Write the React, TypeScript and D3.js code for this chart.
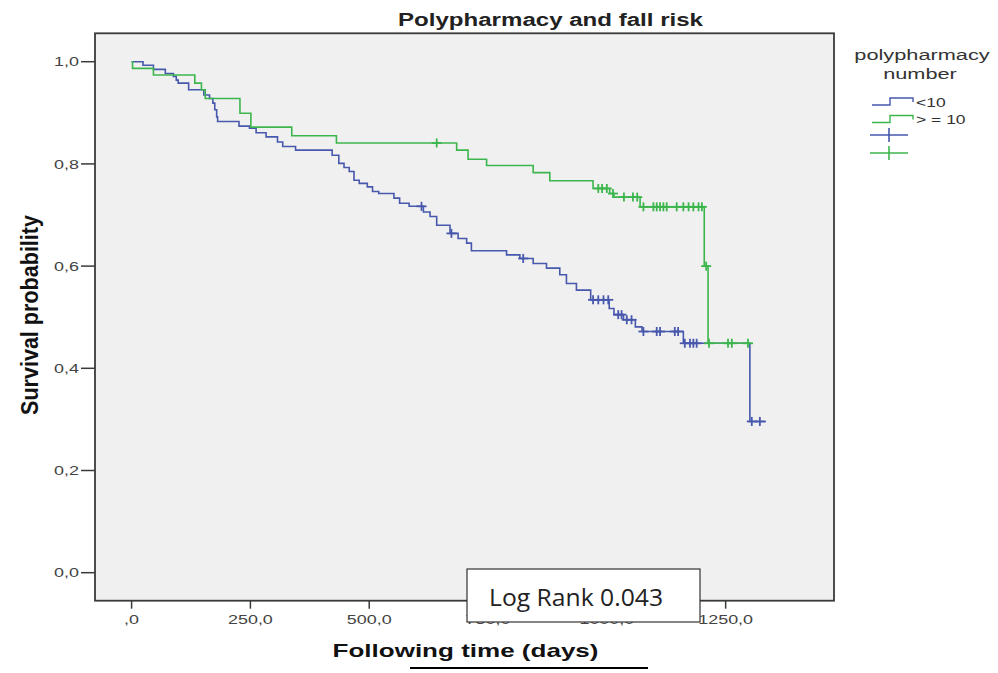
import React from "react";
import * as d3 from "d3";

// ---- data ----
const xTicks = [0, 250, 500, 750, 1000, 1250];
const xTickLabels = [",0", "250,0", "500,0", "750,0", "1000,0", "1250,0"];
const yTicks = [0, 0.2, 0.4, 0.6, 0.8, 1.0];
const yTickLabels = ["0,0", "0,2", "0,4", "0,6", "0,8", "1,0"];

// group "<10" (blue): event times and survival after each event
const blueTimes = [24, 46, 71, 88, 94, 98, 120, 152, 164, 171, 175, 179, 181, 226, 248, 262, 283, 307, 318, 345, 422, 436, 447, 458, 468, 479, 496, 507, 520, 552, 564, 584, 614, 628, 642, 670, 687, 705, 715, 789, 817, 845, 873, 901, 915, 936, 966, 1005, 1015, 1035, 1060, 1074, 1161, 1301];
const blueSurv = [0.993, 0.985, 0.977, 0.971, 0.964, 0.958, 0.945, 0.935, 0.928, 0.919, 0.906, 0.892, 0.883, 0.874, 0.87, 0.861, 0.853, 0.843, 0.834, 0.827, 0.817, 0.801, 0.793, 0.785, 0.768, 0.762, 0.755, 0.746, 0.742, 0.733, 0.723, 0.717, 0.706, 0.697, 0.68, 0.664, 0.654, 0.645, 0.63, 0.622, 0.615, 0.605, 0.596, 0.583, 0.566, 0.553, 0.534, 0.517, 0.505, 0.495, 0.481, 0.472, 0.449, 0.296];
const blueEnd = 1335;
const blueCensored = [610, 673, 824, 971, 982, 993, 1003, 1024, 1031, 1042, 1052, 1077, 1105, 1112, 1143, 1150, 1164, 1175, 1182, 1189, 1305, 1322];

// group "> = 10" (green)
const greenTimes = [2, 46, 133, 147, 155, 228, 251, 337, 431, 684, 708, 747, 845, 880, 971, 1006, 1015, 1070, 1205, 1213];
const greenSurv = [0.987, 0.974, 0.958, 0.945, 0.928, 0.899, 0.872, 0.855, 0.841, 0.827, 0.809, 0.797, 0.783, 0.767, 0.752, 0.742, 0.735, 0.716, 0.6, 0.449];
const greenEnd = 1302;
const greenCensored = [642, 982, 990, 1000, 1013, 1036, 1055, 1064, 1077, 1098, 1105, 1112, 1119, 1126, 1147, 1161, 1172, 1182, 1193, 1200, 1209, 1215, 1255, 1263, 1297];

const legendLabels = ["<10", "> = 10"];

// ---- layout ----
const W = 998;
const H = 673;
const PL = 95, PR = 834, PT = 33.3, PB = 600.7;
const BLUE = "#4758ad";
const GREEN = "#3cb64c";
const FONT = "'Liberation Sans', Arial, sans-serif";
const SX = 1.38;

const xScale = d3.scaleLinear().domain([-77, 1478]).range([PL, PR]);
const yScale = d3.scaleLinear().domain([-0.0548, 1.0556]).range([PB, PT]);

function stepPoints(times: number[], surv: number[], end: number): [number, number][] {
  const pts: [number, number][] = [[0, 1]];
  times.forEach((t, i) => pts.push([t, surv[i]]));
  pts.push([end, surv[surv.length - 1]]);
  return pts;
}

function survAt(times: number[], surv: number[], t: number): number {
  let v = 1;
  for (let i = 0; i < times.length; i++) {
    if (times[i] <= t) v = surv[i];
  }
  return v;
}

const line = d3
  .line<[number, number]>()
  .x((d) => xScale(d[0]))
  .y((d) => yScale(d[1]))
  .curve(d3.curveStepAfter);

function Censors({ times, surv, cens, color }: { times: number[]; surv: number[]; cens: number[]; color: string }) {
  return (
    <g stroke={color} strokeWidth={1.8}>
      {cens.map((t, i) => {
        const cx = xScale(t);
        const cy = yScale(survAt(times, surv, t));
        return (
          <g key={i}>
            <line x1={cx - 5} x2={cx + 5} y1={cy} y2={cy} />
            <line x1={cx} x2={cx} y1={cy - 4.5} y2={cy + 4.5} />
          </g>
        );
      })}
    </g>
  );
}

function SText({ x, y, size, anchor = "start", children, fill = "#333", weight = "normal", sx = SX }: any) {
  return (
    <text
      transform={`translate(${x},${y}) scale(${sx},1)`}
      fontSize={size}
      fontFamily={FONT}
      textAnchor={anchor}
      fill={fill}
      fontWeight={weight}
    >
      {children}
    </text>
  );
}

export default function App() {
  const bluePts = stepPoints(blueTimes, blueSurv, blueEnd);
  const greenPts = stepPoints(greenTimes, greenSurv, greenEnd);

  const legendColors = [BLUE, GREEN];

  return (
    <svg width={W} height={H} style={{ position: "absolute", left: 0, top: 0, background: "#fff" }}>
      <rect x={0} y={0} width={W} height={H} fill="#fff" />
      {/* title */}
      <text x={550.5} y={26} fontSize={18} fontWeight="bold" fontFamily={FONT} textAnchor="middle" fill="#222" textLength={305} lengthAdjust="spacingAndGlyphs">
        Polypharmacy and fall risk
      </text>

      {/* plot area */}
      <rect x={PL} y={PT} width={PR - PL} height={PB - PT} fill="#f0f0f0" stroke="#3a3a3a" strokeWidth={1.8} />

      {/* y ticks */}
      {yTicks.map((v, i) => (
        <g key={"y" + i}>
          <line x1={81} x2={PL} y1={yScale(v)} y2={yScale(v)} stroke="#3a3a3a" strokeWidth={1.5} />
          <SText x={79} y={yScale(v) + 4.6} size={13} anchor="end" fill="#444">
            {yTickLabels[i]}
          </SText>
        </g>
      ))}

      {/* x ticks */}
      {xTicks.map((v, i) => (
        <g key={"x" + i}>
          <line x1={xScale(v)} x2={xScale(v)} y1={PB} y2={PB + 8} stroke="#3a3a3a" strokeWidth={1.5} />
          <SText x={xScale(v)} y={624} size={13} anchor="middle" fill="#444">
            {xTickLabels[i]}
          </SText>
        </g>
      ))}

      {/* curves */}
      <path d={line(bluePts) || ""} fill="none" stroke={BLUE} strokeWidth={1.6} />
      <Censors times={blueTimes} surv={blueSurv} cens={blueCensored} color={BLUE} />
      <path d={line(greenPts) || ""} fill="none" stroke={GREEN} strokeWidth={1.6} />
      <Censors times={greenTimes} surv={greenSurv} cens={greenCensored} color={GREEN} />

      {/* axis titles */}
      <text x={465.5} y={657} fontSize={19} fontWeight="bold" fontFamily={FONT} textAnchor="middle" fill="#111" textLength={266} lengthAdjust="spacingAndGlyphs">
        Following time (days)
      </text>
      <line x1={410} x2={648} y1={668} y2={668} stroke="#000" strokeWidth={2.2} />
      <text transform="translate(38,315) rotate(-90) scale(1,1.3)" fontSize={19} fontWeight="bold" fontFamily={FONT} textAnchor="middle" fill="#111" textLength={200} lengthAdjust="spacingAndGlyphs">
        Survival probability
      </text>

      {/* legend */}
      <SText x={922} y={60} size={15} anchor="middle" fill="#333" sx={1.45}>
        polypharmacy
      </SText>
      <SText x={920} y={79} size={15} anchor="middle" fill="#333" sx={1.45}>
        number
      </SText>
      {legendLabels.map((lab, i) => {
        const yl = 105 + i * 17.5;
        return (
          <g key={"l" + i}>
            <path d={`M872,${yl} H890 V${yl - 7} H913 V${yl - 3}`} fill="none" stroke={legendColors[i]} strokeWidth={1.4} />
            <SText x={916} y={yl + 1.5} size={12.5} fill="#333" sx={1.4}>
              {lab}
            </SText>
          </g>
        );
      })}
      {legendColors.map((c, i) => {
        const yl = 135 + i * 18;
        return (
          <g key={"c" + i} stroke={c} strokeWidth={1.6}>
            <line x1={870} x2={908} y1={yl} y2={yl} />
            <line x1={889} x2={889} y1={yl - 7} y2={yl + 7} />
          </g>
        );
      })}

      {/* log rank box */}
      <rect x={467} y={569} width={233} height={53} fill="#fff" stroke="#333" strokeWidth={1.2} />
      <text x={576} y={606} fontSize={23} fontFamily="'Open Sans', 'Noto Sans', sans-serif" textAnchor="middle" fill="#222" textLength={174} lengthAdjust="spacingAndGlyphs">
        Log Rank 0.043
      </text>
    </svg>
  );
}
